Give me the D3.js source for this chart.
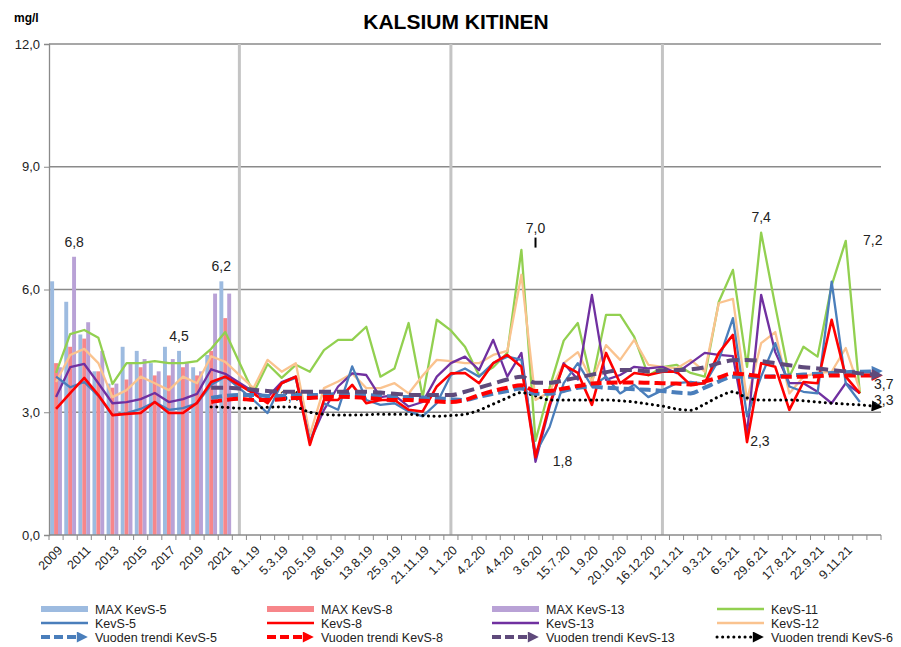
<!DOCTYPE html>
<html>
<head>
<meta charset="utf-8">
<script src="https://cdn.jsdelivr.net/npm/d3@7"></script>
<style>
body { margin: 0; background: #fff; }
svg text { font-family: "Liberation Sans", Arial, sans-serif; }
</style>
</head>
<body>
<script>
// categories: years 2009-2021, then sampling dates (only every other one is labelled)
var categories = ["2009","2010","2011","2012","2013","2014","2015","2016","2017","2018","2019","2020","2021","1.1.19",
    "8.1.19","","5.3.19","","20.5.19","","26.6.19","","13.8.19","","25.9.19","","21.11.19","","1.1.20",
    "","4.2.20","","4.4.20","","3.6.20","","15.7.20","","1.9.20","","20.10.20","","16.12.20","1.1.21",
    "12.1.21","","9.3.21","","6.5.21","","29.6.21","","17.8.21","","22.9.21","","9.11.21","",""];
var yearSeparators = ["1.1.19", "1.1.20", "1.1.21"];
var yTicks = [0, 3, 6, 9, 12];

// yearly maxima (bars, 2009-2021)
var maxKevS5  = [6.2, 5.7, 4.9, 4.0, 3.7, 4.6, 4.5, 4.2, 4.6, 4.5, 4.1, 4.4, 6.2];
var maxKevS8  = [4.2, 4.6, 4.8, 4.0, 3.6, 3.8, 4.1, 3.9, 3.9, 4.1, 3.9, 4.5, 5.3];
var maxKevS13 = [4.1, 6.8, 5.2, 4.5, 3.7, 4.2, 4.3, 4.0, 4.3, 4.2, 4.0, 5.9, 5.9];

// lines, one value per category
var kevS11 = [3.96,4.91,5.01,4.82,3.69,4.2,4.2,4.25,4.2,4.2,4.25,4.55,4.96,null,
    3.47,4.18,3.84,4.16,3.99,4.52,4.77,4.77,5.09,3.87,4.07,5.18,3.37,5.26,5.0,
    4.6,3.9,4.1,4.45,6.97,2.3,3.6,4.75,5.18,3.72,5.38,5.38,4.84,3.9,4.1,
    4.16,3.96,3.87,5.7,6.48,4.11,7.39,5.6,3.87,4.6,4.36,6.1,7.19,3.46,null];
var kevS12 = [3.74,4.4,4.55,4.2,3.37,3.54,3.87,3.71,3.54,3.87,3.71,4.37,4.23,null,
    3.59,4.28,3.99,4.2,2.45,3.59,3.75,3.95,3.59,3.59,3.71,3.46,3.9,4.28,4.25,
    4.2,4.2,4.4,4.5,6.36,3.3,3.5,4.2,4.47,3.75,4.64,4.28,4.77,4.16,4.11,
    4.07,4.28,3.99,5.67,5.77,3.3,4.69,4.96,3.46,3.87,3.96,3.99,4.57,3.54,null];
var kevS13 = [3.37,4.1,4.18,3.71,3.22,3.25,3.32,3.47,3.25,3.32,3.45,4.05,3.94,null,
    3.5,3.37,3.74,3.87,2.28,3.06,3.63,3.95,3.91,3.37,3.42,3.14,3.25,3.87,4.2,
    4.36,4.03,4.77,3.87,4.45,1.79,3.13,4.2,3.8,5.87,3.79,3.91,4.11,4.07,4.11,
    3.96,4.2,4.45,4.4,4.37,2.49,5.87,4.47,3.71,3.71,3.5,3.22,3.71,3.46,null];
var kevS5 = [3.87,3.61,3.74,3.4,2.93,2.98,3.08,3.25,3.06,3.1,3.22,3.67,3.87,null,
    3.3,2.98,3.71,3.84,2.28,3.22,3.06,4.12,3.3,3.18,3.22,3.02,2.9,3.22,3.91,
    4.07,3.87,4.2,4.36,4.28,2.0,2.64,3.71,4.2,3.63,3.87,3.46,3.67,3.37,3.54,
    3.71,3.74,3.7,4.28,5.3,2.9,3.87,4.69,3.63,3.5,3.46,6.19,3.71,3.25,null];
var kevS8 = [3.08,3.47,3.84,3.42,2.93,2.96,2.98,3.25,2.98,2.98,3.23,3.74,3.87,null,
    3.46,3.22,3.71,3.87,2.2,3.3,3.3,3.67,3.22,3.3,3.3,3.06,3.02,3.63,3.95,
    3.96,3.71,4.2,4.4,4.11,1.9,3.2,4.16,3.96,3.18,4.45,3.71,3.96,3.91,3.99,
    3.99,3.67,3.71,4.45,4.89,2.27,4.2,4.11,3.06,3.74,3.71,5.26,3.87,3.46,null];

// yearly trends, from category "2020" to the end
var trendFrom = "2020";
var trendKevS5 = [3.35,3.4,3.42,3.42,3.4,3.4,3.42,3.42,3.43,3.44,3.43,3.42,3.4,3.38,3.37,3.36,3.34,3.32,3.3,3.38,
    3.45,3.52,3.58,3.45,3.45,3.52,3.6,3.63,3.6,3.58,3.56,3.55,3.52,3.48,3.46,3.6,3.75,3.87,3.87,3.87,
    3.88,3.9,3.92,3.94,3.96,3.98,3.99,4.0];
var trendKevS8 = [3.25,3.3,3.33,3.3,3.3,3.32,3.35,3.35,3.37,3.38,3.37,3.35,3.32,3.3,3.3,3.28,3.26,3.25,3.3,3.42,
    3.52,3.6,3.66,3.52,3.52,3.58,3.64,3.7,3.72,3.73,3.73,3.72,3.71,3.7,3.68,3.75,3.85,3.95,3.92,3.88,
    3.87,3.87,3.87,3.88,3.9,3.9,3.9,3.9];
var trendKevS13 = [3.6,3.6,3.58,3.55,3.52,3.5,3.5,3.5,3.5,3.5,3.5,3.5,3.48,3.45,3.43,3.42,3.42,3.42,3.5,3.6,
    3.7,3.8,3.87,3.72,3.72,3.78,3.85,3.92,3.98,4.03,4.03,4.0,4.02,4.03,4.05,4.1,4.2,4.27,4.28,4.25,
    4.2,4.15,4.1,4.07,4.03,4.0,3.95,3.92];
var trendKevS6 = [3.13,3.12,3.1,3.1,3.12,3.13,3.12,3.0,2.95,2.93,2.93,2.94,2.95,2.95,2.95,2.92,2.9,2.92,2.95,3.05,
    3.2,3.35,3.48,3.4,3.3,3.3,3.3,3.3,3.3,3.28,3.25,3.2,3.15,3.08,3.05,3.2,3.38,3.5,3.35,3.3,
    3.3,3.3,3.28,3.25,3.22,3.2,3.18,3.15];

// value labels written on the chart
var notes = [
    {text: "6,8", cat: "2010", value: 6.8, pos: "above"},
    {text: "4,5", cat: "2018", value: 4.5, pos: "above"},
    {text: "6,2", cat: "2021", value: 6.2, pos: "above"},
    {text: "7,0", cat: "3.6.20", value: 7.0, pos: "lead"},
    {text: "1,8", cat: "3.6.20", value: 1.8, pos: "right"},
    {text: "7,4", cat: "29.6.21", value: 7.4, pos: "above"},
    {text: "2,3", cat: "6.5.21", value: 2.3, pos: "right"},
    {text: "7,2", cat: "9.11.21", value: 7.2, pos: "right"},
    {text: "3,4", cat: "5.3.19", value: 3.4, pos: "at"},
    {text: "3,7", cat: "", value: 3.7, pos: "end"},
    {text: "3,3", cat: "", value: 3.3, pos: "end"}
];

var W = 901, H = 647;
var svg = d3.select("body").append("svg").attr("width", W).attr("height", H);

var idx = d3.range(categories.length);
var catIndex = function(c) { return categories.indexOf(c); };

var x = d3.scaleBand().domain(idx).range([49, 881]).padding(0);
var y = d3.scaleLinear().domain([0, 12]).range([535, 44]);
var cx = function(i) { return x(i) + x.bandwidth() / 2; };

// title
svg.append("text").attr("x", 456).attr("y", 29).attr("text-anchor", "middle")
    .style("font-size", "21px").style("font-weight", "bold").text("KALSIUM KITINEN");
svg.append("text").attr("x", 14).attr("y", 22)
    .style("font-size", "12px").style("font-weight", "bold").text("mg/l");

// horizontal grid
svg.append("g").selectAll("line").data(yTicks.filter(function(d) { return d > 0; }))
    .enter().append("line")
    .attr("x1", 49).attr("x2", 881)
    .attr("y1", function(d) { return y(d); }).attr("y2", function(d) { return y(d); })
    .attr("stroke", "#8a8a8a").attr("stroke-width", 1.3);

// year separators
svg.append("g").selectAll("rect").data(yearSeparators).enter().append("rect")
    .attr("x", function(d) { return cx(catIndex(d)) - 1.5; })
    .attr("width", 3)
    .attr("y", y(12)).attr("height", y(0) - y(12))
    .attr("fill", "#c4c4c4");

// bars
var barSeries = [
    {name: "MAX KevS-5", values: maxKevS5, color: "#9dbbe0"},
    {name: "MAX KevS-8", values: maxKevS8, color: "#f7868a"},
    {name: "MAX KevS-13", values: maxKevS13, color: "#b9a2d6"}
];
var xb = d3.scaleBand().domain([0, 1, 2]).range([0, x.bandwidth()]).paddingInner(0).paddingOuter(0.3);
barSeries.forEach(function(s, k) {
    svg.append("g").selectAll("rect").data(s.values).enter().append("rect")
        .attr("x", function(d, i) { return x(i) + xb(k); })
        .attr("width", xb.bandwidth())
        .attr("y", function(d) { return y(d); })
        .attr("height", function(d) { return y(0) - y(d); })
        .attr("fill", s.color);
});

// axes
var yAxis = d3.axisLeft(y).tickValues(yTicks).tickSize(5)
    .tickFormat(function(d) { return d3.format(".1f")(d).replace(".", ","); });
var gy = svg.append("g").attr("transform", "translate(49,0)").call(yAxis);
gy.select(".domain").attr("stroke", "#8a8a8a").attr("stroke-width", 1.3);
gy.selectAll(".tick line").attr("stroke", "#8a8a8a");
gy.selectAll(".tick text").attr("x", -9).style("font-size", "13px").attr("fill", "#222");

var gx = svg.append("g").attr("transform", "translate(0,535)");
gx.append("line").attr("x1", 49).attr("x2", 881).attr("stroke", "#8a8a8a").attr("stroke-width", 1.3);
gx.selectAll(".tk").data(d3.range(categories.length + 1)).enter().append("line")
    .attr("x1", function(i) { return 49 + i * x.step(); })
    .attr("x2", function(i) { return 49 + i * x.step(); })
    .attr("y1", 0).attr("y2", 5).attr("stroke", "#8a8a8a");
gx.selectAll("text").data(idx.filter(function(i) { return i % 2 === 0 && categories[i]; }))
    .enter().append("text")
    .attr("transform", function(i) { return "translate(" + (cx(i) + 4) + ",13) rotate(-45)"; })
    .attr("text-anchor", "end").attr("dy", "0.35em")
    .style("font-size", "12.5px").attr("fill", "#222")
    .text(function(i) { return categories[i]; });

// value notes
var notePos = function(n) {
    var i = catIndex(n.cat);
    if (n.pos === "above") {
        var shift = n.text === "6,8" ? 4 : (n.text === "4,5" || n.text === "6,2" ? -4 : 0);
        return [cx(i) + shift, y(n.value) - 10];
    }
    if (n.pos === "lead") return [cx(i), y(n.value) - 16];
    if (n.pos === "right") return [cx(i) + 27, y(n.value) + 5];
    if (n.pos === "at") return [cx(i) + 8, y(n.value) + 5];
    return [874, y(n.value) + 5];
};
var drawNote = function(n) {
    var p = notePos(n);
    svg.append("text").attr("x", p[0]).attr("y", p[1])
        .attr("text-anchor", n.pos === "end" ? "start" : "middle")
        .style("font-size", "14px").attr("fill", "#222").text(n.text);
    if (n.pos === "lead") {
        svg.append("line").attr("x1", p[0]).attr("x2", p[0])
            .attr("y1", p[1] + 5).attr("y2", y(n.value) - 1)
            .attr("stroke", "#000").attr("stroke-width", 2);
    }
};
// "3,4" sits behind the lines
notes.filter(function(n) { return n.pos === "at"; }).forEach(drawNote);

// measured lines
var lineSeries = [
    {name: "KevS-11", values: kevS11, color: "#92d050", width: 2.3},
    {name: "KevS-12", values: kevS12, color: "#fac38f", width: 2.3},
    {name: "KevS-13", values: kevS13, color: "#7030a0", width: 2.3},
    {name: "KevS-5", values: kevS5, color: "#4a7ebb", width: 2.3},
    {name: "KevS-8", values: kevS8, color: "#ff0000", width: 2.6}
];
var line = d3.line().x(function(d) { return cx(d.i); }).y(function(d) { return y(d.v); });
lineSeries.forEach(function(s) {
    var pts = s.values.map(function(v, i) { return {i: i, v: v}; })
        .filter(function(d) { return d.v != null; });
    svg.append("path").datum(pts).attr("d", line)
        .attr("fill", "none").attr("stroke", s.color).attr("stroke-width", s.width)
        .attr("stroke-linejoin", "round");
});

// trend lines with arrow heads
var trendSeries = [
    {name: "Vuoden trendi KevS-6", values: trendKevS6, color: "#000000", dash: "0.1,5.5", width: 3, cap: "round"},
    {name: "Vuoden trendi KevS-5", values: trendKevS5, color: "#4a7ebb", dash: "11,5", width: 4, cap: "butt"},
    {name: "Vuoden trendi KevS-8", values: trendKevS8, color: "#ff0000", dash: "11,5", width: 4, cap: "butt"},
    {name: "Vuoden trendi KevS-13", values: trendKevS13, color: "#5f4a7b", dash: "12,6", width: 4, cap: "butt"}
];
var defs = svg.append("defs");
trendSeries.forEach(function(s, k) {
    defs.append("marker").attr("id", "arr" + k)
        .attr("viewBox", "0 0 10 10").attr("refX", 2).attr("refY", 5)
        .attr("markerWidth", 13).attr("markerHeight", 11)
        .attr("markerUnits", "userSpaceOnUse").attr("orient", "auto")
        .append("path").attr("d", "M0,0L10,5L0,10z").attr("fill", s.color);
});
var t0 = catIndex(trendFrom);
var trendLine = d3.line().curve(d3.curveMonotoneX)
    .x(function(d) { return cx(d.i); }).y(function(d) { return y(d.v); });
trendSeries.forEach(function(s, k) {
    var pts = s.values.map(function(v, j) { return {i: t0 + j, v: v}; });
    svg.append("path").datum(pts).attr("d", trendLine)
        .attr("fill", "none").attr("stroke", s.color).attr("stroke-width", s.width)
        .attr("stroke-dasharray", s.dash).attr("stroke-linecap", s.cap)
        .attr("marker-end", "url(#arr" + k + ")");
});

notes.filter(function(n) { return n.pos !== "at"; }).forEach(drawNote);

// legend, 4 columns x 3 rows
var legendItems = [
    {name: "MAX KevS-5", color: "#9dbbe0", kind: "bar"},
    {name: "MAX KevS-8", color: "#f7868a", kind: "bar"},
    {name: "MAX KevS-13", color: "#b9a2d6", kind: "bar"},
    {name: "KevS-11", color: "#92d050", kind: "line"},
    {name: "KevS-5", color: "#4a7ebb", kind: "line"},
    {name: "KevS-8", color: "#ff0000", kind: "line"},
    {name: "KevS-13", color: "#7030a0", kind: "line"},
    {name: "KevS-12", color: "#fac38f", kind: "line"},
    {name: "Vuoden trendi KevS-5", color: "#4a7ebb", kind: "dash", k: 1},
    {name: "Vuoden trendi KevS-8", color: "#ff0000", kind: "dash", k: 2},
    {name: "Vuoden trendi KevS-13", color: "#5f4a7b", kind: "dash", k: 3},
    {name: "Vuoden trendi KevS-6", color: "#000000", kind: "dot", k: 0}
];
var colX = [41, 267, 492, 717];
var rowY = [609, 623, 637];
var lg = svg.append("g");
legendItems.forEach(function(it, n) {
    var lx = colX[n % 4], ly = rowY[Math.floor(n / 4)];
    if (it.kind === "bar") {
        lg.append("line").attr("x1", lx).attr("x2", lx + 47).attr("y1", ly).attr("y2", ly)
            .attr("stroke", it.color).attr("stroke-width", 6);
    } else if (it.kind === "line") {
        lg.append("line").attr("x1", lx).attr("x2", lx + 47).attr("y1", ly).attr("y2", ly)
            .attr("stroke", it.color).attr("stroke-width", 2.5);
    } else {
        lg.append("line").attr("x1", lx).attr("x2", lx + 38).attr("y1", ly).attr("y2", ly)
            .attr("stroke", it.color)
            .attr("stroke-width", it.kind === "dot" ? 3 : 4)
            .attr("stroke-dasharray", it.kind === "dot" ? "0.1,5.5" : "9,4")
            .attr("stroke-linecap", it.kind === "dot" ? "round" : "butt")
            .attr("marker-end", "url(#arr" + it.k + ")");
    }
    lg.append("text").attr("x", lx + 54).attr("y", ly + 4.5)
        .style("font-size", "12.5px").attr("fill", "#222").text(it.name);
});
</script>
</body>
</html>
